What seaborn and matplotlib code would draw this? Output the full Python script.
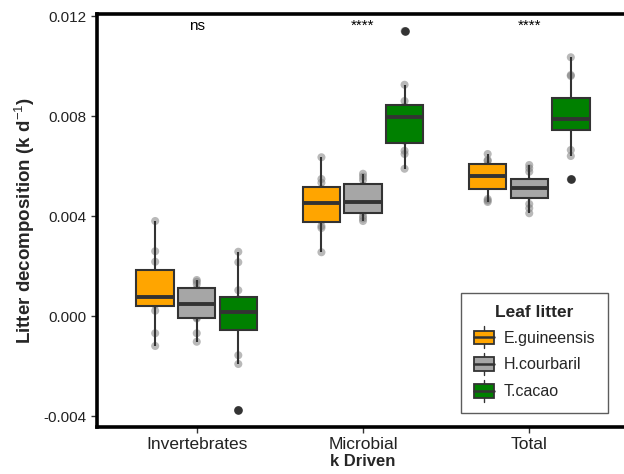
import numpy as np
import pandas as pd
import matplotlib
matplotlib.use("Agg")
import matplotlib.pyplot as plt
from matplotlib.patches import Rectangle
from matplotlib.lines import Line2D
from matplotlib.legend_handler import HandlerBase
import seaborn as sns

drivers = ["Invertebrates", "Microbial", "Total"]
species = ["E.guineensis", "H.courbaril", "T.cacao"]
colors = ["#FFA500", "#A6A6A6", "#008000"]
signif = ["ns", "****", "****"]
yticks = [-0.004, 0.000, 0.004, 0.008, 0.012]

inv_eg = [-0.0012, -0.00069, 0.00021, 0.00045, 0.0006, 0.0007, 0.00084, 0.0012, 0.00173, 0.00217, 0.00259, 0.0038]
inv_hc = [-0.00103, -0.00069, -0.0001, -0.00006, 0.0002, 0.00045, 0.00053, 0.0009, 0.00108, 0.00127, 0.00137, 0.00144]
inv_tc = [-0.00376, -0.00192, -0.00157, -0.00021, 0.0, 0.0001, 0.00024, 0.0004, 0.00067, 0.00103, 0.00215, 0.00257]
mic_eg = [0.00255, 0.00352, 0.0036, 0.00381, 0.0041, 0.0044, 0.00464, 0.0049, 0.00509, 0.00533, 0.00548, 0.00635]
mic_hc = [0.0038, 0.0039, 0.004, 0.00416, 0.0043, 0.0045, 0.00462, 0.0050, 0.00521, 0.00544, 0.00557, 0.00569]
mic_tc = [0.00589, 0.00648, 0.00661, 0.00701, 0.0074, 0.0078, 0.00814, 0.0083, 0.00837, 0.0086, 0.00925, 0.0114]
tot_eg = [0.00456, 0.00462, 0.00468, 0.0052, 0.0053, 0.0055, 0.00572, 0.0059, 0.00604, 0.0062, 0.00624, 0.00648]
tot_hc = [0.00411, 0.00431, 0.00448, 0.00481, 0.0049, 0.0051, 0.00516, 0.0053, 0.00538, 0.00577, 0.00591, 0.00604]
tot_tc = [0.00547, 0.0064, 0.00664, 0.00769, 0.0077, 0.0078, 0.00796, 0.0083, 0.00841, 0.0096, 0.00964, 0.01035]

groups = {
    ("Invertebrates", "E.guineensis"): inv_eg,
    ("Invertebrates", "H.courbaril"): inv_hc,
    ("Invertebrates", "T.cacao"): inv_tc,
    ("Microbial", "E.guineensis"): mic_eg,
    ("Microbial", "H.courbaril"): mic_hc,
    ("Microbial", "T.cacao"): mic_tc,
    ("Total", "E.guineensis"): tot_eg,
    ("Total", "H.courbaril"): tot_hc,
    ("Total", "T.cacao"): tot_tc,
}
rows = []
for (d, s), vals in groups.items():
    for v in vals:
        rows.append({"driver": d, "species": s, "k": v})
df = pd.DataFrame(rows)

sns.set_style("white")
plt.rcParams["font.family"] = ["Liberation Sans", "DejaVu Sans"]
plt.rcParams["mathtext.fontset"] = "custom"
plt.rcParams["mathtext.rm"] = "Liberation Sans"
plt.rcParams["mathtext.bf"] = "Liberation Sans:bold"


class BoxHandler(HandlerBase):
    def create_artists(self, legend, orig_handle, xdescent, ydescent,
                       width, height, fontsize, trans):
        fc = orig_handle.get_facecolor()
        cx = -xdescent + width / 2
        bh = height * 0.72
        by = -ydescent + (height - bh) / 2
        wl = Line2D([cx, cx], [-ydescent - height * 0.08, -ydescent + height * 1.08],
                    color="#333333", lw=1.0, linestyle="-", transform=trans)
        rect = Rectangle((-xdescent, by), width, bh, facecolor=fc,
                         edgecolor="#333333", lw=1.3, transform=trans)
        med = Line2D([-xdescent, -xdescent + width], [by + bh / 2, by + bh / 2],
                     color="#333333", lw=1.8, transform=trans)
        return [wl, rect, med]


fig = plt.figure(figsize=(6.24, 4.74), dpi=100)
ax = fig.add_axes([97 / 624, 1 - 427 / 474, 532 / 624, (427 - 14) / 474])

sns.stripplot(data=df, x="driver", y="k", hue="species", order=drivers,
              hue_order=species, palette=["#808080"] * 3, dodge=True,
              jitter=False, size=5.8, alpha=0.55, linewidth=0,
              legend=False, ax=ax, zorder=1)
# stripplot dodges over 0.8 of a category; the boxes use 0.75 (ggplot default)
for coll in ax.collections:
    offs = coll.get_offsets()
    if len(offs):
        c = np.round(offs[:, 0])
        offs[:, 0] = c + (offs[:, 0] - c) * (0.75 / 0.8)
        coll.set_offsets(offs)

sns.boxplot(data=df, x="driver", y="k", hue="species", order=drivers,
            hue_order=species, palette=colors, width=0.75, gap=0.1,
            linewidth=1.5, linecolor="#333333", saturation=1,
            whis=1.5, showcaps=False,
            medianprops=dict(linewidth=2.8, color="#333333"),
            flierprops=dict(marker="o", markersize=5.2, markerfacecolor="#333333",
                            markeredgecolor="#333333", alpha=1),
            ax=ax)

ax.set_xlim(-0.6, 2.6)
ax.set_ylim(-0.004 - 11 * 0.00004, 0.012 + 2 * 0.00004)
ax.set_yticks(yticks)
ax.set_yticklabels([f"{t:.3f}" for t in yticks])

for i, s in enumerate(signif):
    ax.text(i, 0.01162, s, ha="center", va="center", fontsize=11, color="black")

for side in ["left", "bottom", "top"]:
    ax.spines[side].set_visible(True)
    ax.spines[side].set_linewidth(2.6)
    ax.spines[side].set_color("black")
ax.spines["right"].set_visible(False)

ax.tick_params(axis="both", which="both", length=4, width=1, color="#333333",
               labelcolor="#222222", direction="out", left=True, bottom=True)
ax.tick_params(axis="y", labelsize=11)
ax.tick_params(axis="x", labelsize=12.5)
ax.set_xlabel("k Driven", fontsize=12, fontweight="bold", labelpad=1)
ax.set_ylabel("Litter decomposition (k d$^{-1}$)", fontsize=13.5,
              fontweight="bold", labelpad=5)

handles, labels = ax.get_legend_handles_labels()
leg = ax.legend(handles, labels, title="Leaf litter", loc="lower left",
                bbox_to_anchor=((461 - 97) / 532, 0.034), borderaxespad=0,
                frameon=True, fancybox=False, edgecolor="#333333",
                fontsize=11.5, title_fontsize=12.5, handlelength=1.25,
                handleheight=1.45, labelspacing=0.48, borderpad=0.8,
                handletextpad=0.6,
                handler_map={type(handles[0]): BoxHandler()})
leg.get_title().set_fontweight("bold")
leg.get_frame().set_linewidth(1.0)

fig.savefig("out.png", dpi=100)
